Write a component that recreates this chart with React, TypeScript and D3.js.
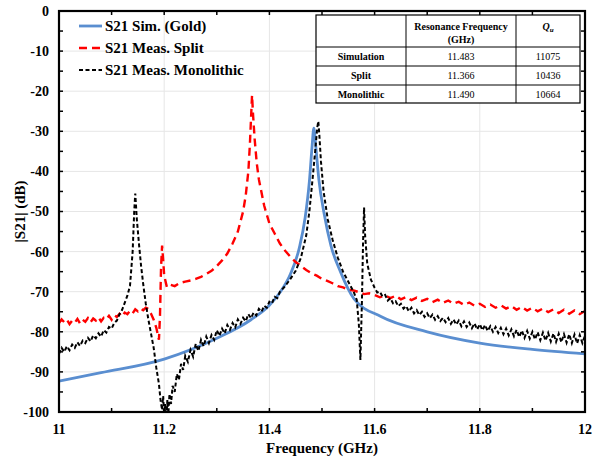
import React from 'react'
import * as d3 from 'd3'

// frequency (GHz), |S21| (dB)
const simGold: [number, number][] = [
  [11.0, -92.3], [11.08, -90.2], [11.2, -86.8], [11.3, -81.6], [11.365, -77.0],
  [11.4, -73.4], [11.42, -70.2], [11.44, -65.6], [11.457, -59.0], [11.468, -51.5],
  [11.476, -42.5], [11.481, -34.0], [11.4845, -29.2], [11.488, -33.5], [11.494, -42.0],
  [11.504, -50.5], [11.517, -58.5], [11.535, -65.0], [11.561, -71.8], [11.612, -76.2],
  [11.7, -80.0], [11.8, -82.8], [11.9, -84.4], [12.0, -85.5],
]

const measSplit: [number, number][] = [
  [11.0, -77.8], [11.005, -76.9], [11.01, -77.6], [11.015, -77.0], [11.02, -78.1],
  [11.025, -77.2], [11.03, -77.7], [11.035, -76.8], [11.04, -77.9], [11.045, -77.0],
  [11.05, -77.5], [11.055, -76.6], [11.06, -77.6], [11.065, -76.7], [11.07, -77.2],
  [11.075, -76.4], [11.08, -77.4], [11.085, -76.5], [11.09, -76.9], [11.095, -76.0],
  [11.1, -77.0], [11.105, -75.9], [11.11, -76.3], [11.115, -75.5], [11.12, -76.2],
  [11.125, -75.2], [11.13, -75.6], [11.135, -74.8], [11.14, -75.4], [11.145, -74.4],
  [11.15, -74.9], [11.155, -74.2], [11.16, -74.6], [11.165, -74.0], [11.17, -74.3],
  [11.175, -75.5], [11.18, -77.0],
  [11.185, -79.0], [11.19, -82.0], [11.192, -76.0], [11.194, -64.0], [11.196, -58.5],
  [11.198, -62.0], [11.2, -66.0], [11.205, -68.8], [11.21, -68.2], [11.22, -68.6],
  [11.23, -67.8], [11.24, -67.5], [11.25, -67.2], [11.26, -66.8], [11.27, -66.3],
  [11.28, -65.6], [11.29, -64.8], [11.3, -63.6], [11.31, -62.2], [11.32, -60.5],
  [11.33, -58.0], [11.34, -55.0], [11.35, -50.0], [11.355, -46.0], [11.36, -40.0],
  [11.363, -33.0], [11.366, -24.0], [11.367, -21.0], [11.369, -26.0], [11.372, -32.0],
  [11.376, -38.0], [11.38, -42.0], [11.39, -48.5], [11.4, -53.0], [11.41, -55.5],
  [11.42, -58.0], [11.43, -59.8], [11.44, -61.3], [11.45, -62.6], [11.46, -63.6],
  [11.47, -64.6], [11.48, -65.4], [11.49, -66.0], [11.5, -66.8], [11.51, -67.3],
  [11.52, -67.9], [11.53, -68.6], [11.54, -68.9], [11.55, -69.5], [11.56, -69.7],
  [11.57, -70.1], [11.58, -70.6], [11.59, -70.4],
  [11.6, -70.8], [11.61, -71.4], [11.62, -70.9], [11.63, -71.6], [11.64, -71.0],
  [11.65, -71.9], [11.66, -71.3], [11.67, -72.1], [11.68, -71.5], [11.69, -72.3],
  [11.7, -71.8], [11.71, -72.6], [11.72, -72.0], [11.73, -72.8], [11.74, -72.2],
  [11.75, -73.0], [11.76, -72.5], [11.77, -73.3], [11.78, -72.7], [11.79, -73.5],
  [11.8, -73.0], [11.81, -73.8], [11.82, -73.2], [11.83, -74.0], [11.84, -73.4],
  [11.85, -74.2], [11.86, -73.6], [11.87, -74.5], [11.88, -73.8], [11.89, -74.7],
  [11.9, -74.0], [11.91, -74.9], [11.92, -74.2], [11.93, -75.1], [11.94, -74.4],
  [11.95, -75.3], [11.96, -74.5], [11.97, -75.5], [11.98, -74.7], [11.99, -75.6],
  [12.0, -74.8],
]

const measMono: [number, number][] = [
  [11.0, -85.5], [11.005, -84.0], [11.01, -85.0], [11.015, -83.6], [11.02, -84.6],
  [11.025, -83.2], [11.03, -84.0], [11.035, -82.6], [11.04, -83.5], [11.045, -82.2],
  [11.05, -82.8], [11.055, -81.5], [11.06, -82.4], [11.065, -80.9], [11.07, -81.6],
  [11.075, -80.4], [11.08, -81.2], [11.085, -79.6], [11.09, -80.2], [11.095, -78.8],
  [11.1, -79.2], [11.105, -77.8], [11.11, -77.2], [11.115, -75.6], [11.12, -74.5],
  [11.13, -71.0], [11.135, -68.5],
  [11.14, -60.0], [11.143, -50.0], [11.145, -45.5], [11.148, -52.0], [11.152, -58.0],
  [11.156, -63.5], [11.16, -68.0], [11.165, -73.0], [11.17, -77.0], [11.175, -80.5],
  [11.18, -84.0], [11.185, -89.0], [11.19, -93.0], [11.193, -97.0], [11.196, -99.5],
  [11.198, -96.0], [11.2, -101.0], [11.202, -98.0], [11.204, -102.0], [11.206, -97.0],
  [11.208, -100.5], [11.21, -95.5], [11.213, -98.0], [11.216, -93.5], [11.22, -95.0],
  [11.224, -90.5], [11.228, -92.0], [11.232, -88.0], [11.236, -89.5], [11.24, -86.0],
  [11.245, -87.5],
  [11.25, -84.5], [11.255, -86.2], [11.26, -83.0], [11.265, -84.8], [11.27, -82.0],
  [11.275, -83.6], [11.28, -81.2], [11.285, -82.8], [11.29, -80.8], [11.295, -82.0],
  [11.3, -79.6], [11.305, -81.0], [11.31, -79.2], [11.315, -80.4], [11.32, -78.3],
  [11.325, -79.5], [11.33, -77.8], [11.335, -78.9], [11.34, -76.9], [11.345, -78.0],
  [11.35, -76.5], [11.355, -77.4], [11.36, -75.6], [11.365, -76.6], [11.37, -75.2],
  [11.375, -75.9], [11.38, -74.3], [11.385, -75.0], [11.39, -73.5], [11.395, -74.0],
  [11.4, -72.5], [11.405, -72.9], [11.41, -71.3], [11.415, -71.6], [11.42, -70.0],
  [11.43, -68.6], [11.44, -66.8], [11.45, -64.8],
  [11.46, -61.5], [11.47, -56.0], [11.476, -50.0], [11.482, -42.0], [11.487, -35.0],
  [11.491, -29.0], [11.493, -27.5], [11.495, -31.0], [11.498, -37.5], [11.503, -45.0],
  [11.511, -52.0], [11.52, -57.0], [11.53, -61.5], [11.54, -65.0], [11.55, -67.5],
  [11.56, -70.0], [11.566, -72.0], [11.57, -78.0], [11.573, -87.0], [11.576, -72.0],
  [11.578, -58.0], [11.58, -49.0], [11.582, -56.0], [11.586, -63.0], [11.593, -67.0],
  [11.6, -69.0], [11.605, -70.2], [11.61, -70.0], [11.615, -71.2], [11.62, -70.8],
  [11.625, -72.2], [11.63, -71.6], [11.635, -72.9], [11.64, -72.4], [11.645, -73.6],
  [11.65, -73.0], [11.655, -74.2], [11.66, -73.6], [11.665, -74.9], [11.67, -74.0],
  [11.675, -75.4], [11.68, -74.6], [11.685, -75.8], [11.69, -75.0], [11.695, -76.3],
  [11.7, -75.4], [11.705, -76.6], [11.71, -75.7], [11.715, -77.0], [11.72, -76.1],
  [11.725, -77.3], [11.73, -76.5], [11.735, -77.6], [11.74, -76.6], [11.745, -78.0],
  [11.75, -76.9], [11.755, -78.2], [11.76, -77.2], [11.765, -78.6], [11.77, -77.4],
  [11.775, -78.8], [11.78, -77.7], [11.785, -79.1], [11.79, -77.9], [11.795, -79.4],
  [11.8, -78.1], [11.805, -79.6], [11.81, -78.3], [11.815, -79.8], [11.82, -78.6],
  [11.825, -80.0], [11.83, -78.8], [11.835, -80.3], [11.84, -79.0], [11.845, -80.6],
  [11.85, -79.2], [11.855, -80.9], [11.86, -79.4], [11.865, -81.1], [11.87, -79.5],
  [11.875, -81.3], [11.88, -79.7], [11.885, -81.5], [11.89, -79.8], [11.895, -81.7],
  [11.9, -80.0], [11.905, -81.9], [11.91, -80.1], [11.915, -82.1], [11.92, -80.2],
  [11.925, -82.2], [11.93, -80.3], [11.935, -82.4], [11.94, -80.4], [11.945, -82.5],
  [11.95, -80.5], [11.955, -82.6], [11.96, -80.6], [11.965, -82.7], [11.97, -80.6],
  [11.975, -82.8], [11.98, -80.7], [11.985, -82.9], [11.99, -80.8], [11.995, -82.8],
  [12.0, -81.0],
]

const legendLabels = ['S21 Sim. (Gold)', 'S21 Meas. Split', 'S21 Meas. Monolithic']
const xTicks = [11, 11.2, 11.4, 11.6, 11.8, 12]
const yTicks = [0, -10, -20, -30, -40, -50, -60, -70, -80, -90, -100]

const tableHeader = ['', 'Resonance Frequency', 'Qu']
const tableRows = ['Simulation', 'Split', 'Monolithic']
const tableFreq = ['11.483', '11.366', '11.490']
const tableQ = ['11075', '10436', '10664']

const font = '"Liberation Serif", "Times New Roman", serif'

export default function App() {
  const W = 592, H = 460
  const m = { left: 59, right: 585, top: 11, bottom: 412 }
  const x = d3.scaleLinear().domain([11, 12]).range([m.left, m.right])
  const y = d3.scaleLinear().domain([-100, 0]).range([m.bottom, m.top])

  const lineSim = d3.line<[number, number]>().x(d => x(d[0])).y(d => y(d[1])).curve(d3.curveMonotoneX)
  const line = d3.line<[number, number]>().x(d => x(d[0])).y(d => y(d[1]))

  const minorX = d3.range(11, 12.0001, 0.1)
  const minorY = d3.range(-100, 0.0001, 5)

  const styles = [
    { stroke: '#5a8ed0', width: 2.8, dash: undefined },
    { stroke: '#ff0000', width: 2.4, dash: '8,5' },
    { stroke: '#000000', width: 2, dash: '4,2.5' },
  ]

  // table layout
  const tx = [316, 406, 516, 580]
  const ty = [15, 47, 66, 85, 103]

  return (
    <svg width={W} height={H} style={{ position: 'absolute', left: 0, top: 0, background: '#fff' }} fontFamily={font}>
      <defs>
        <clipPath id="plot">
          <rect x={m.left} y={m.top} width={m.right - m.left} height={m.bottom - m.top} />
        </clipPath>
      </defs>

      {/* grid */}
      {yTicks.map(t => (
        <line key={'gy' + t} x1={m.left} x2={m.right} y1={y(t)} y2={y(t)} stroke="#e6e6e6" strokeWidth={1} />
      ))}
      {xTicks.map(t => (
        <line key={'gx' + t} x1={x(t)} x2={x(t)} y1={m.top} y2={m.bottom} stroke="#e6e6e6" strokeWidth={1} />
      ))}

      {/* curves */}
      <g clipPath="url(#plot)" fill="none">
        <path d={lineSim(simGold) || ''} stroke={styles[0].stroke} strokeWidth={styles[0].width} />
        <path d={line(measSplit) || ''} stroke={styles[1].stroke} strokeWidth={styles[1].width} strokeDasharray={styles[1].dash} />
        <path d={line(measMono) || ''} stroke={styles[2].stroke} strokeWidth={styles[2].width} strokeDasharray={styles[2].dash} />
      </g>

      {/* ticks inward */}
      {minorX.map((t, i) => (
        <g key={'tx' + i} stroke="#000" strokeWidth={1.5}>
          <line x1={x(t)} x2={x(t)} y1={m.bottom} y2={m.bottom - 4} />
          <line x1={x(t)} x2={x(t)} y1={m.top} y2={m.top + 4} />
        </g>
      ))}
      {minorY.map((t, i) => (
        <g key={'ty' + i} stroke="#000" strokeWidth={1.5}>
          <line x1={m.left} x2={m.left + 4} y1={y(t)} y2={y(t)} />
          <line x1={m.right} x2={m.right - 4} y1={y(t)} y2={y(t)} />
        </g>
      ))}

      {/* frame */}
      <rect x={m.left} y={m.top} width={m.right - m.left} height={m.bottom - m.top} fill="none" stroke="#000" strokeWidth={2.2} />

      {/* tick labels */}
      {yTicks.map(t => (
        <text key={'ly' + t} x={m.left - 10} y={y(t)} dy="0.35em" textAnchor="end" fontSize={14} fontWeight="bold">{t}</text>
      ))}
      {xTicks.map(t => (
        <text key={'lx' + t} x={x(t)} y={m.bottom + 22} textAnchor="middle" fontSize={14} fontWeight="bold">{d3.format('~g')(t)}</text>
      ))}

      <text x={(m.left + m.right) / 2} y={453} textAnchor="middle" fontSize={15} fontWeight="bold">Frequency (GHz)</text>
      <text transform={`translate(25,${(m.top + m.bottom) / 2}) rotate(-90)`} textAnchor="middle" fontSize={15} fontWeight="bold">|S21| (dB)</text>

      {/* legend */}
      {legendLabels.map((l, i) => (
        <g key={'lg' + i} transform={`translate(79,${26 + i * 22})`}>
          <line x1={0} x2={23} y1={0} y2={0} stroke={styles[i].stroke} strokeWidth={styles[i].width} strokeDasharray={styles[i].dash} />
          <text x={26} y={0} dy="0.35em" fontSize={15} fontWeight="bold">{l}</text>
        </g>
      ))}

      {/* table */}
      <g>
        <rect x={tx[0]} y={ty[0]} width={tx[3] - tx[0]} height={ty[4] - ty[0]} fill="#fff" stroke="#000" strokeWidth={1.2} />
        {tx.slice(1, 3).map(v => <line key={'tc' + v} x1={v} x2={v} y1={ty[0]} y2={ty[4]} stroke="#000" strokeWidth={1} />)}
        {ty.slice(1, 4).map(v => <line key={'tr' + v} x1={tx[0]} x2={tx[3]} y1={v} y2={v} stroke="#000" strokeWidth={1} />)}
        <text x={(tx[1] + tx[2]) / 2} y={26} dy="0.35em" textAnchor="middle" fontSize={10} fontWeight="bold">{tableHeader[1]}</text>
        <text x={(tx[1] + tx[2]) / 2} y={39} dy="0.35em" textAnchor="middle" fontSize={10} fontWeight="bold">(GHz)</text>
        <text x={(tx[2] + tx[3]) / 2} y={26} dy="0.35em" textAnchor="middle" fontSize={10} fontWeight="bold" fontStyle="italic">
          {tableHeader[2][0]}<tspan fontSize={7} dy="0.3em">{tableHeader[2][1]}</tspan>
        </text>
        {tableRows.map((r, i) => {
          const cy = (ty[i + 1] + ty[i + 2]) / 2
          return (
            <g key={'row' + r} fontSize={10}>
              <text x={(tx[0] + tx[1]) / 2} y={cy} dy="0.35em" textAnchor="middle" fontWeight="bold">{r}</text>
              <text x={(tx[1] + tx[2]) / 2} y={cy} dy="0.35em" textAnchor="middle">{tableFreq[i]}</text>
              <text x={(tx[2] + tx[3]) / 2} y={cy} dy="0.35em" textAnchor="middle">{tableQ[i]}</text>
            </g>
          )
        })}
      </g>
    </svg>
  )
}
